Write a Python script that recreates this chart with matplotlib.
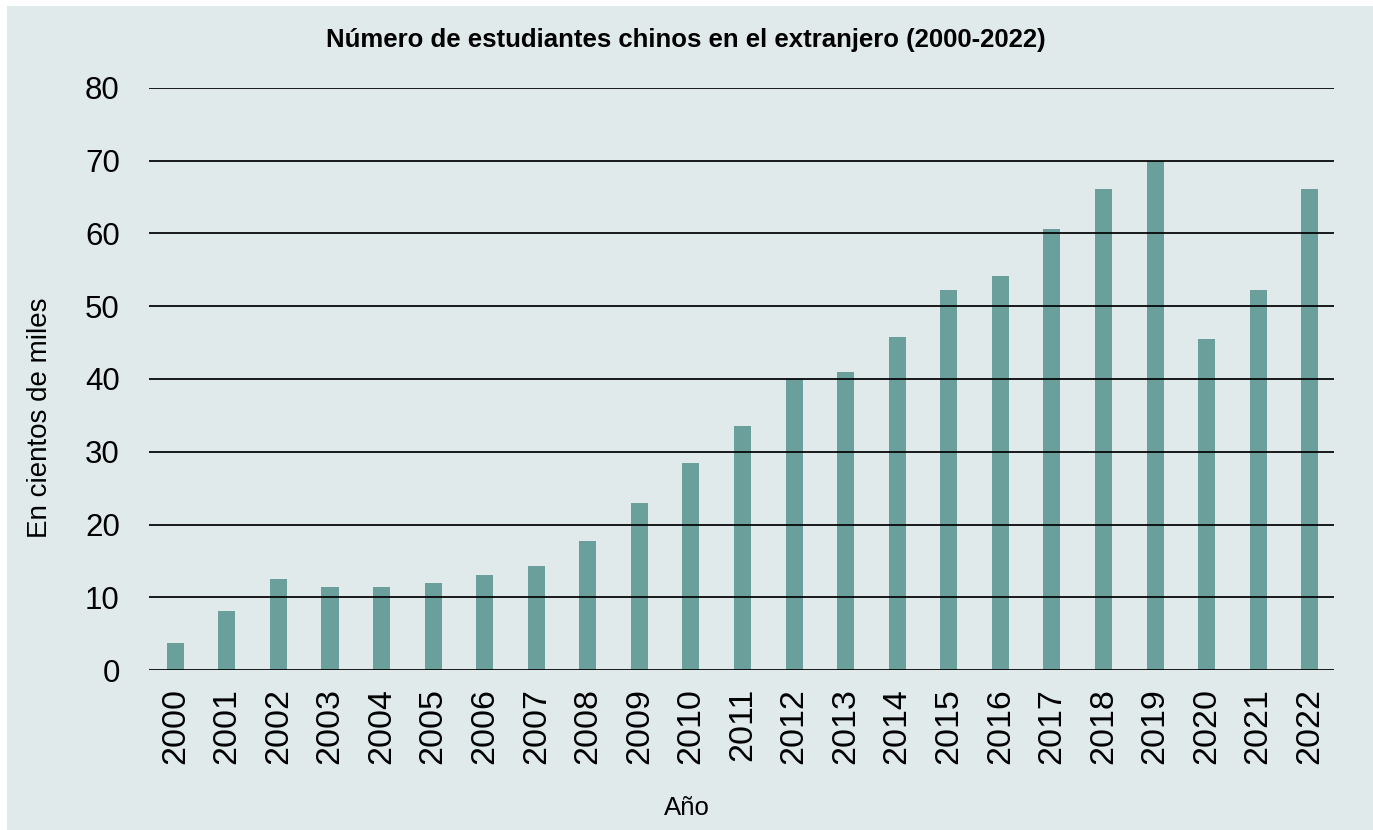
import matplotlib
matplotlib.use("Agg")
import matplotlib.pyplot as plt
from matplotlib.patches import Rectangle

years = [str(y) for y in range(2000, 2023)]
values = [3.7, 8.1, 12.5, 11.4, 11.4, 12.0, 13.0, 14.3, 17.7, 22.9, 28.5, 33.5,
          40.0, 41.0, 45.8, 52.2, 54.2, 60.6, 66.1, 70.0, 45.5, 52.2, 66.1]
yticks = [0, 10, 20, 30, 40, 50, 60, 70, 80]

title = "Número de estudiantes chinos en el extranjero (2000-2022)"
ylabel = "En cientos de miles"
xlabel = "Año"

bg = "#e1eaeb"
bar_color = "#6a9f9b"

plt.rcParams['font.family'] = ['Liberation Sans', 'DejaVu Sans']

fig = plt.figure(figsize=(13.73, 8.30), dpi=100, facecolor="white")
fig.patches.append(Rectangle((7 / 1373, 0), 1, 1 - 6 / 830, transform=fig.transFigure,
                             facecolor=bg, edgecolor="none", zorder=-10))

ax = fig.add_axes([149 / 1373, 1 - 670 / 830, (1334 - 149) / 1373, (670 - 88) / 830])
ax.set_facecolor(bg)
x = list(range(len(years)))
ax.bar(x, values, width=0.33, color=bar_color, zorder=2)
ax.set_xlim(-0.51, 22.47)
ax.set_ylim(0, 80)
ax.set_yticks(yticks)
ax.set_yticklabels([str(t) for t in yticks], fontsize=22.5)
ax.set_xticks(x)
ax.set_xticklabels(years, rotation=90, fontsize=24.5)
ax.tick_params(axis='x', length=0, pad=13)
ax.tick_params(axis='y', length=0, pad=21)
for t in yticks:
    ax.axhline(t, color="#000000", lw=1.25, zorder=3)
for s in ax.spines.values():
    s.set_visible(False)

fig.text(686 / 1373, 1 - 40 / 830, title, ha="center", va="center", fontsize=18.5,
         fontweight="bold", family=['Liberation Sans Narrow', 'Liberation Sans', 'DejaVu Sans'])
fig.text(40 / 1373, 1 - 418 / 830, ylabel, ha="center", va="center", rotation=90, fontsize=20)
fig.text(687 / 1373, 1 - 808 / 830, xlabel, ha="center", va="center", fontsize=18.5)

fig.savefig("out.png", dpi=100, facecolor=fig.get_facecolor())
